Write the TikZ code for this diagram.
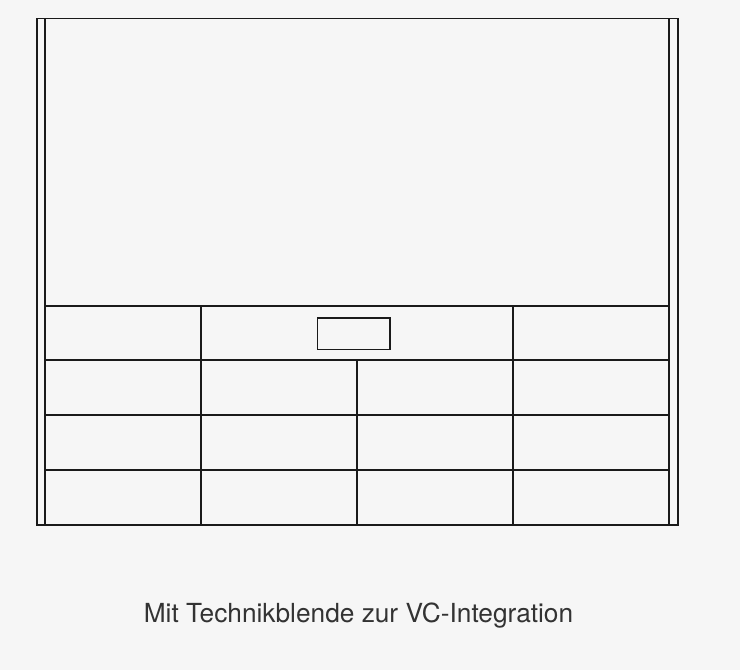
\documentclass[tikz,border=0pt]{standalone}
\usepackage{fontspec}
\setmainfont{TeX Gyre Heros}
\definecolor{bg}{HTML}{F6F6F6}
\definecolor{ln}{HTML}{1A1A1A}
\definecolor{txt}{HTML}{333333}
\begin{document}
\begin{tikzpicture}[x=0.75pt,y=-0.75pt,
  edge/.style={draw=ln,line width=1.1pt},
  caption/.style={text=txt,font=\fontsize{19.7}{23}\selectfont,inner sep=0pt}]
\fill[bg] (0,0) rectangle (740,670);
\useasboundingbox (0,0) rectangle (740,670);
% outer frame
\draw[edge] (37,18.5) rectangle (678,525);
% inner side lines
\draw[edge] (45,18.5) -- (45,525);
\draw[edge] (669,18.5) -- (669,525);
% horizontal grid lines
\draw[edge] (45,306) -- (669,306);
\draw[edge] (45,360) -- (669,360);
\draw[edge] (45,415) -- (669,415);
\draw[edge] (45,470) -- (669,470);
% vertical grid lines
\draw[edge] (201,306) -- (201,525);
\draw[edge] (513,306) -- (513,525);
\draw[edge] (357,360) -- (357,525);
% camera box
\draw[edge] (317.5,318) rectangle (390,349.5);
% caption
\node[caption] (cap) at (358.5,616) {Mit Technikblende zur VC-Integration};
\end{tikzpicture}
\end{document}
